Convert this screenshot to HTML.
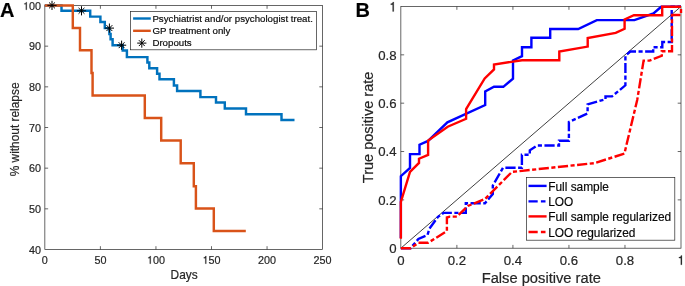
<!DOCTYPE html>
<html><head><meta charset="utf-8">
<style>
html,body{margin:0;padding:0;background:#fff;width:685px;height:286px;overflow:hidden}
svg{display:block;will-change:transform}
text{font-family:"Liberation Sans",sans-serif;fill:#262626;stroke:#262626;stroke-width:0.2px}
</style></head><body>
<svg width="685" height="286" viewBox="0 0 685 286">
<rect width="685" height="286" fill="#fff"/>
<text x="0.1" y="16.5" font-size="20" font-weight="bold" style="fill:#000">A</text>
<g stroke="#262626" stroke-width="0.7" fill="none"><rect x="44.85" y="5.5" width="277.75" height="244.00"/><path d="M100.40,249.5 v-3.3 M100.40,5.5 v3.3 M155.95,249.5 v-3.3 M155.95,5.5 v3.3 M211.50,249.5 v-3.3 M211.50,5.5 v3.3 M267.05,249.5 v-3.3 M267.05,5.5 v3.3 M44.85,208.83 h3.3 M322.6,208.83 h-3.3 M44.85,168.17 h3.3 M322.6,168.17 h-3.3 M44.85,127.50 h3.3 M322.6,127.50 h-3.3 M44.85,86.83 h3.3 M322.6,86.83 h-3.3 M44.85,46.17 h3.3 M322.6,46.17 h-3.3"/></g>
<g fill="none" stroke-width="2.45" stroke-linejoin="miter" stroke-linecap="butt">
<path stroke="#0072BD" d="M44.7,5.4 H61.5 V10.8 H90.2 V16.6 H100.4 V22 H104.8 V28.1 H109.4 V34 H110.6 V39.2 H112.6 V45.2 H122.7 V50.5 H126.9 V57.1 H147.4 V62.4 H149.3 V68.2 H157.1 V73.8 H159.5 V79.3 H173.9 V85.5 H177.1 V91 H200.4 V97.1 H216 V102.4 H224.8 V108.5 H246 V114.2 H281.5 V119.9 H294.5"/>
<path stroke="#D95319" d="M44.7,5.4 H72.8 V28 H80 V50.3 H91.5 V73 H92.6 V95.5 H144.8 V118 H161.2 V140.5 H180.7 V163.3 H193.8 V186.2 H195.9 V208.5 H213.8 V231 H245.8"/>
</g>
<path d="M52,0.80 V10.00 M47.40,5.4 H56.60 M49.06,2.46 L54.94,8.34 M49.06,8.34 L54.94,2.46" stroke="#000" stroke-width="1.0" fill="none"/>
<path d="M81.5,6.20 V15.40 M76.90,10.8 H86.10 M78.56,7.86 L84.44,13.74 M78.56,13.74 L84.44,7.86" stroke="#000" stroke-width="1.0" fill="none"/>
<path d="M109.4,23.50 V32.70 M104.80,28.1 H114.00 M106.46,25.16 L112.34,31.04 M106.46,31.04 L112.34,25.16" stroke="#000" stroke-width="1.0" fill="none"/>
<path d="M121.6,40.60 V49.80 M117.00,45.2 H126.20 M118.66,42.26 L124.54,48.14 M118.66,48.14 L124.54,42.26" stroke="#000" stroke-width="1.0" fill="none"/>
<text x="41.85" y="263.70" font-size="10.8">0</text>
<text x="94.40" y="263.70" font-size="10.8">50</text>
<path transform="translate(146.94,263.70) scale(10.8)" d="M0.262,-0.503 V0 H0.350 V-0.709 H0.278 C0.263,-0.620 0.233,-0.589 0.119,-0.580 V-0.513 Z" fill="#262626" stroke="#262626" stroke-width="0.0185"/><text x="152.95" y="263.70" font-size="10.8">00</text>
<path transform="translate(202.49,263.70) scale(10.8)" d="M0.262,-0.503 V0 H0.350 V-0.709 H0.278 C0.263,-0.620 0.233,-0.589 0.119,-0.580 V-0.513 Z" fill="#262626" stroke="#262626" stroke-width="0.0185"/><text x="208.50" y="263.70" font-size="10.8">50</text>
<text x="258.04" y="263.70" font-size="10.8">200</text>
<text x="313.59" y="263.70" font-size="10.8">250</text>
<text x="28.99" y="253.80" font-size="10.8">40</text>
<text x="28.99" y="213.13" font-size="10.8">50</text>
<text x="28.99" y="172.47" font-size="10.8">60</text>
<text x="28.99" y="131.80" font-size="10.8">70</text>
<text x="28.99" y="91.13" font-size="10.8">80</text>
<text x="28.99" y="50.47" font-size="10.8">90</text>
<path transform="translate(22.99,9.80) scale(10.8)" d="M0.262,-0.503 V0 H0.350 V-0.709 H0.278 C0.263,-0.620 0.233,-0.589 0.119,-0.580 V-0.513 Z" fill="#262626" stroke="#262626" stroke-width="0.0185"/><text x="28.99" y="9.80" font-size="10.8">00</text>
<text x="184.1" y="278.7" font-size="11.9" text-anchor="middle">Days</text>
<text transform="translate(18.9,129.4) rotate(-90)" font-size="11.9" text-anchor="middle">% without relapse</text>
<rect x="130.55" y="11.4" width="185.95" height="38.4" fill="#fff" stroke="#262626" stroke-width="0.7"/>
<path d="M133.1,18.5 H150.8" stroke="#0072BD" stroke-width="2.4"/>
<path d="M133.1,30.8 H150.8" stroke="#D95319" stroke-width="2.4"/>
<path d="M141.8,38.50 V47.70 M137.20,43.1 H146.40 M138.86,40.16 L144.74,46.04 M138.86,46.04 L144.74,40.16" stroke="#000" stroke-width="1.0" fill="none"/>
<g font-size="9.7">
<text x="152.4" y="21.8" style="fill:#000">Psychiatrist and/or psychologist treat.</text>
<text x="152.4" y="34.2" style="fill:#000">GP treatment only</text>
<text x="152.4" y="46.3" style="fill:#000">Dropouts</text>
</g>
<text x="355.6" y="16.5" font-size="20" font-weight="bold" style="fill:#000">B</text>
<g stroke="#262626" stroke-width="0.7" fill="none"><rect x="400.85" y="6.5" width="280.15" height="241.70"/><path d="M456.88,248.2 v-3.3 M456.88,6.5 v3.3 M512.91,248.2 v-3.3 M512.91,6.5 v3.3 M568.94,248.2 v-3.3 M568.94,6.5 v3.3 M624.97,248.2 v-3.3 M624.97,6.5 v3.3 M400.85,199.86 h3.3 M681.0,199.86 h-3.3 M400.85,151.52 h3.3 M681.0,151.52 h-3.3 M400.85,103.18 h3.3 M681.0,103.18 h-3.3 M400.85,54.84 h3.3 M681.0,54.84 h-3.3"/></g>
<path d="M400.85,248.2 L681.0,6.5" stroke="#000" stroke-width="0.75" fill="none"/>
<g fill="none" stroke-width="2.4" stroke-linejoin="miter" stroke-linecap="butt">
<path stroke="#0000FF" d="M400.85,238 V176.2 L410,168 V154.1 H419.5 V144.7 L428.1,140.9 L447.4,122.3 L485.2,105.1 V91.4 L494,86.8 H503.3 L513,78.6 V60.4 L522,56.2 V47.2 H531.4 V37.8 H550.2 V29 H578.2 L596.8,20.1 H634.4 L653.5,13.5 L661.2,6.8 H681"/>
<path stroke="#0000FF" stroke-dasharray="10.2 2.5 4.1 2.5" d="M400.85,248.2 H410.5 L418.4,239 L427.5,235 L429.4,228.6 L438,216.8 L443.5,212.9 H465.8 V203.2 H485 L492.8,194 V185.6 L503,167.7 H521.9 V154.8 H529.8 V150.3 L537,145.5 H559 V140.7 H568.9 V122 L587.6,113.4 V104.4 L605.5,99.2 V96.4 H612 L625.4,85.3 V55.9 L630.3,51.5 H653.2 V47.2 H662.3 V42 H671.7 V6.6 H681"/>
<path stroke="#FF0000" d="M400.85,238.7 V202 L410,172 L419,162.9 V158.7 L428.1,154.9 V140.5 L447.7,126.7 L466.1,118.8 V109.2 L484.7,78.4 L494,69.4 V64.6 L522,60.2 H559.3 V51.6 L587.7,46.6 V38 L615.7,32.9 L624.6,28.8 V19.4 L633.9,15.2 H662.2 V6.7 H681"/>
<path stroke="#FF0000" stroke-dasharray="10.2 2.5 4.1 2.5" d="M400.85,248.2 H410.5 L418.4,242.8 H428 L446.9,231.1 V217.5 L449.8,216.6 H457 L467.8,206 L485,199 L512,171.9 L594.7,163.1 L624.4,153.6 L637.2,100 L643.6,60.6 H649.5 L661.8,55.8 V51.3 H672 V15 H681 V6.6"/>
</g>
<text x="397.18" y="264.80" font-size="13.2">0</text>
<text x="447.71" y="264.80" font-size="13.2">0.2</text>
<text x="503.74" y="264.80" font-size="13.2">0.4</text>
<text x="559.77" y="264.80" font-size="13.2">0.6</text>
<text x="615.80" y="264.80" font-size="13.2">0.8</text>
<path transform="translate(677.33,264.80) scale(13.2)" d="M0.262,-0.503 V0 H0.350 V-0.709 H0.278 C0.263,-0.620 0.233,-0.589 0.119,-0.580 V-0.513 Z" fill="#262626" stroke="#262626" stroke-width="0.0152"/>
<text x="389.16" y="253.10" font-size="13.2">0</text>
<text x="378.15" y="204.76" font-size="13.2">0.2</text>
<text x="378.15" y="156.42" font-size="13.2">0.4</text>
<text x="378.15" y="108.08" font-size="13.2">0.6</text>
<text x="378.15" y="59.74" font-size="13.2">0.8</text>
<path transform="translate(389.16,11.40) scale(13.2)" d="M0.262,-0.503 V0 H0.350 V-0.709 H0.278 C0.263,-0.620 0.233,-0.589 0.119,-0.580 V-0.513 Z" fill="#262626" stroke="#262626" stroke-width="0.0152"/>
<text x="541.3" y="282.8" font-size="14.7" text-anchor="middle">False positive rate</text>
<text transform="translate(373,127.4) rotate(-90)" font-size="14.5" text-anchor="middle">True positive rate</text>
<rect x="526.4" y="177.4" width="148.4" height="62.8" fill="#fff" stroke="#262626" stroke-width="0.7"/>
<g stroke-width="2.4" fill="none">
<path d="M528.5,185.9 H546.6" stroke="#0000FF"/>
<path d="M528.5,201.4 H546.6" stroke="#0000FF" stroke-dasharray="9.2 3.2 4.6 3"/>
<path d="M528.5,216.4 H546.6" stroke="#FF0000"/>
<path d="M528.5,232 H546.6" stroke="#FF0000" stroke-dasharray="9.2 3.2 4.6 3"/>
</g>
<g font-size="11.9">
<text x="548.2" y="190.6" style="fill:#000">Full sample</text>
<text x="548.2" y="206.4" style="fill:#000">LOO</text>
<text x="548.2" y="221.2" style="fill:#000">Full sample regularized</text>
<text x="548.2" y="237.0" style="fill:#000">LOO regularized</text>
</g>
</svg>
</body></html>
